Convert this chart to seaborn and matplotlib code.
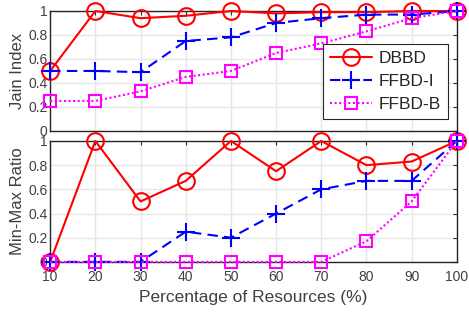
import pandas as pd
import matplotlib
matplotlib.use("Agg")
import matplotlib.pyplot as plt
import seaborn as sns

# Datos
porcentajes = [10, 20, 30, 40, 50, 60, 70, 80, 90, 100]
jain_dbbd = [0.5, 1.0, 0.94, 0.96, 1.0, 0.98, 0.99, 0.99, 1.0, 1.0]
jain_ffbd_i = [0.5, 0.5, 0.49, 0.75, 0.78, 0.90, 0.94, 0.97, 0.97, 1.0]
jain_ffbd_b = [0.25, 0.25, 0.33, 0.45, 0.5, 0.65, 0.73, 0.83, 0.94, 1.0]
minmax_dbbd = [0.0, 1.0, 0.5, 0.67, 1.0, 0.75, 1.0, 0.8, 0.83, 1.0]
minmax_ffbd_i = [0.0, 0.0, 0.0, 0.25, 0.2, 0.4, 0.6, 0.67, 0.67, 1.0]
minmax_ffbd_b = [0.0, 0.0, 0.0, 0.0, 0.0, 0.0, 0.0, 0.17, 0.5, 1.0]
series = ["DBBD", "FFBD-I", "FFBD-B"]

sns.set_theme(style="whitegrid")
plt.rcParams['font.family'] = ['Liberation Sans', 'DejaVu Sans']

estilos = {
    "DBBD": dict(color="#ff0000", ls="-", marker="o", ms=12, mew=1.5),
    "FFBD-I": dict(color="#0000ff", ls=(0, (5, 3)), marker="+", ms=13, mew=1.5),
    "FFBD-B": dict(color="#ff00ff", ls=(0, (1, 1.2)), marker="s", ms=8, mew=1.5),
}

fig = plt.figure(figsize=(4.69, 3.14), dpi=100)
ax1 = fig.add_axes([0.107, 0.583, 0.867, 0.382])
ax2 = fig.add_axes([0.107, 0.166, 0.867, 0.385])


def dibujar(ax, valores):
    for nombre, vals in zip(series, valores):
        df = pd.DataFrame({"x": porcentajes, "y": vals})
        e = estilos[nombre]
        sns.lineplot(data=df, x="x", y="y", ax=ax, color=e["color"], linestyle=e["ls"],
                     marker=e["marker"], markersize=e["ms"], markeredgewidth=e["mew"],
                     markerfacecolor="none", markeredgecolor=e["color"], linewidth=1.5,
                     label=nombre, clip_on=False, zorder=3)
    ax.set_xlim(10, 100)
    ax.set_ylim(0, 1)
    ax.set_xticks(porcentajes)
    ax.set_yticks([0, 0.2, 0.4, 0.6, 0.8, 1])
    ax.set_yticklabels(["0", "0.2", "0.4", "0.6", "0.8", "1"])
    ax.set_facecolor("white")
    ax.grid(True, color="#e6e6e6", linewidth=1)
    for s in ax.spines.values():
        s.set_color("#262626")
        s.set_linewidth(1)
    ax.tick_params(axis="both", labelsize=10, colors="#262626", labelcolor="#404040",
                   direction="in", length=3, width=0.8, top=True, right=True)
    ax.tick_params(axis="x", pad=6)
    ax.tick_params(axis="y", pad=2)
    ax.set_xlabel("")


dibujar(ax1, [jain_dbbd, jain_ffbd_i, jain_ffbd_b])
dibujar(ax2, [minmax_dbbd, minmax_ffbd_i, minmax_ffbd_b])

ax1.set_xticklabels([])
ax1.set_ylabel("Jain Index", fontsize=12, color="#404040", labelpad=2)
ax2.set_ylabel("Min-Max Ratio", fontsize=12, color="#404040", labelpad=2)
ax2.set_xlabel("Percentage of Resources (%)", fontsize=12.5, color="#404040", labelpad=4)
ax2.get_legend().remove()

leg = ax1.legend(loc="lower right", fontsize=12.5, frameon=True, fancybox=False,
                 edgecolor="#262626", framealpha=1, handlelength=2.4,
                 borderpad=0.4, labelspacing=0.45, handletextpad=0.4,
                 bbox_to_anchor=(1.0, 0.03))
leg.get_frame().set_linewidth(0.8)

fig.savefig("out.png", dpi=100)
